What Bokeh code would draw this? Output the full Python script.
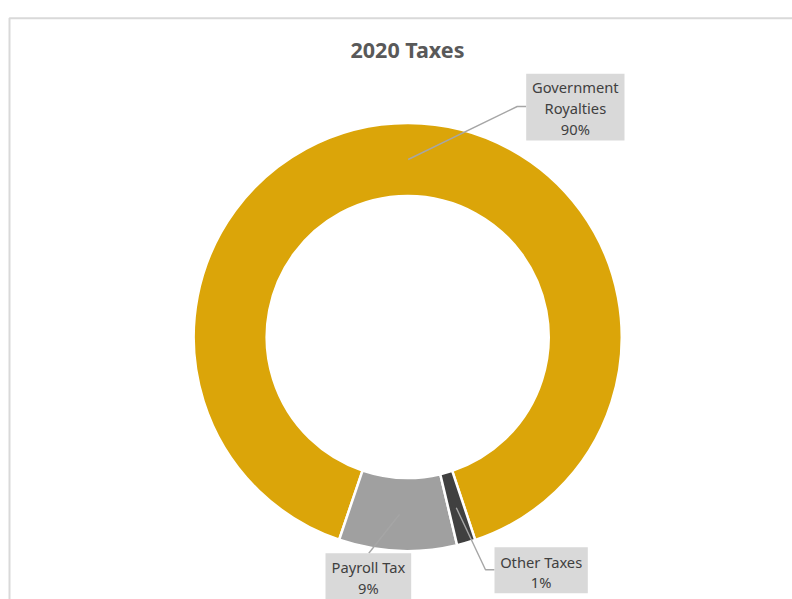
import math
import textwrap
from bokeh.plotting import figure
from bokeh.models import Range1d
from bokeh.embed import file_html
from bokeh.resources import INLINE
from bokeh.core.properties import value

# ---- data ----
title = "2020 Taxes"
categories = ["Government Royalties", "Payroll Tax", "Other Taxes"]
shares = [89.7, 8.9, 1.4]
colors = ["#DBA509", "#A0A0A0", "#404040"]

# ---- layout (picture pixel coordinates) ----
W, H = 792, 599
def fx(px):
    return px
def fy(py):
    return H - py

cx, cy = fx(407.2), fy(336.5)
r_out, r_in = 214.0, 141.0
start_deg = -71.6
wrap_width = 12
label_boxes = [(525.7, 73.3, 624.0, 140.0), (325.0, 552.7, 410.7, 605.0), (494.0, 546.7, 587.3, 592.7)]
label_paths = [[(516.7, 106.0), (525.7, 106.0)], [(368.3, 552.7)], [(485.0, 569.3), (494.0, 569.3)]]
label_text_y0 = [86.7, 566.7, 561.0]
line_step = 20.7
FONT = "Noto Sans"

p = figure(width=W, height=H, output_backend="svg", toolbar_location=None,
           x_range=Range1d(0, W), y_range=Range1d(0, H), min_border=0,
           x_axis_location=None, y_axis_location=None, outline_line_color=None,
           background_fill_color="white", border_fill_color="white")
p.grid.visible = False

# chart area border
p.line([fx(9), fx(9), fx(820)], [fy(640), fy(17.7), fy(17.7)], line_color="#D9D9D9", line_width=2)

# donut
total = sum(shares)
starts, ends, mids = [], [], []
a = math.radians(start_deg)
for v in shares:
    da = 2 * math.pi * v / total
    starts.append(a)
    ends.append(a + da)
    mids.append(a + da / 2)
    a += da

p.annular_wedge(x=[cx] * len(shares), y=[cy] * len(shares), inner_radius=r_in, outer_radius=r_out,
                start_angle=starts, end_angle=ends, direction="anticlock",
                fill_color=colors, line_color="white", line_width=2.5)

# labels
r_mid = (r_in + r_out) / 2
for i, cat in enumerate(categories):
    sx = cx + r_mid * math.cos(mids[i])
    sy = cy + r_mid * math.sin(mids[i])
    xs = [sx] + [fx(q[0]) for q in label_paths[i]]
    ys = [sy] + [fy(q[1]) for q in label_paths[i]]
    p.line(xs, ys, line_color="#A6A6A6", line_width=1.4)
    l, t, r, b = label_boxes[i]
    p.quad(left=fx(l), right=fx(r), top=fy(t), bottom=fy(b), fill_color="#D9D9D9", line_color=None)
    lines = textwrap.wrap(cat, wrap_width) + [f"{round(shares[i])}%"]
    tx = fx((l + r) / 2)
    tys = [fy(label_text_y0[i] + k * line_step) for k in range(len(lines))]
    p.text(x=[tx] * len(lines), y=tys, text=lines, text_align="center", text_baseline="middle",
           text_font=value(FONT), text_font_size="14.7px", text_color="#404040")

# title
p.text(x=[fx(407.0)], y=[fy(48.5)], text=[title], text_align="center", text_baseline="middle",
       text_font=value(FONT), text_font_size="21.5px", text_font_style="bold", text_color="#595959")

open("out.html", "w").write(file_html(p, INLINE))
